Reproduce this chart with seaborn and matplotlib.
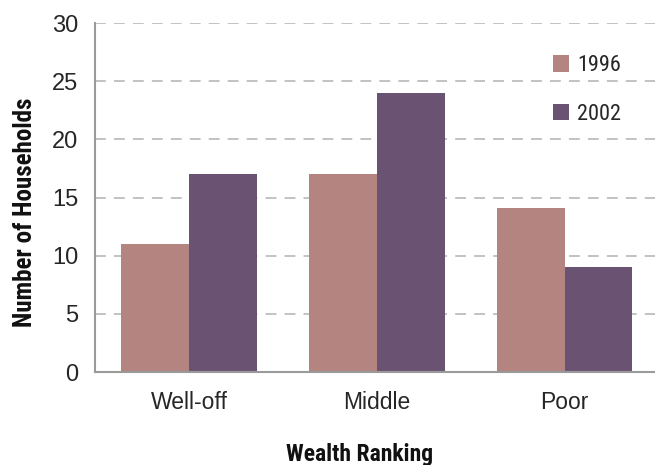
import matplotlib
matplotlib.use("Agg")
import matplotlib.pyplot as plt
import seaborn as sns
import pandas as pd
from matplotlib.patches import Patch

categories = ["Well-off", "Middle", "Poor"]
years = ["1996", "2002"]
values_1996 = [11, 17, 14.1]
values_2002 = [17, 24, 9]
colors = ["#b48480", "#6a5372"]

df = pd.DataFrame({
    "Wealth Ranking": categories * 2,
    "Year": [years[0]] * 3 + [years[1]] * 3,
    "Households": values_1996 + values_2002,
})

sns.set_theme(style="white")
plt.rcParams["font.family"] = ["Liberation Sans", "DejaVu Sans"]

fig = plt.figure(figsize=(6.55, 4.65), dpi=100)
ax = fig.add_axes([0.145, 0.2, 0.855, 0.7505])

sns.barplot(data=df, x="Wealth Ranking", y="Households", hue="Year",
            palette=colors, width=0.72, gap=0, saturation=1, ax=ax,
            legend=False, linewidth=0)

ax.set_ylim(0, 30)
ax.set_xlim(-0.5, 2.48)
ax.set_yticks(range(0, 31, 5))
ax.yaxis.grid(True, color="#bdbdbd", linestyle=(0, (6, 4.5)), linewidth=1.3)
ax.set_axisbelow(True)
for s in ["top", "right"]:
    ax.spines[s].set_visible(False)
for s in ["left", "bottom"]:
    ax.spines[s].set_color("#9a9a9a")
    ax.spines[s].set_linewidth(1.5)
ax.tick_params(axis="y", length=0, pad=12, labelsize=17, labelcolor="#262626")
ax.tick_params(axis="x", length=0, pad=14, labelsize=16.5, labelcolor="#262626")

cond = ["Roboto Condensed", "DejaVu Sans"]
ax.set_xlabel("Wealth Ranking", family=cond, fontweight="bold", fontsize=17,
              color="#111111")
ax.set_ylabel("Number of Households", family=cond, fontweight="bold", fontsize=18,
              color="#111111")
ax.xaxis.set_label_coords(0.473, -0.203)
ax.yaxis.set_label_coords(-0.104, 0.458)

handles = [Patch(facecolor=c, edgecolor="none") for c in colors]
leg = ax.legend(handles, years, loc="upper right", bbox_to_anchor=(0.975, 0.965),
                frameon=False, handlelength=0.75, handleheight=0.75,
                handletextpad=0.35, labelspacing=1.25,
                prop={"family": cond, "size": 16})

fig.savefig("out.png", dpi=100)
